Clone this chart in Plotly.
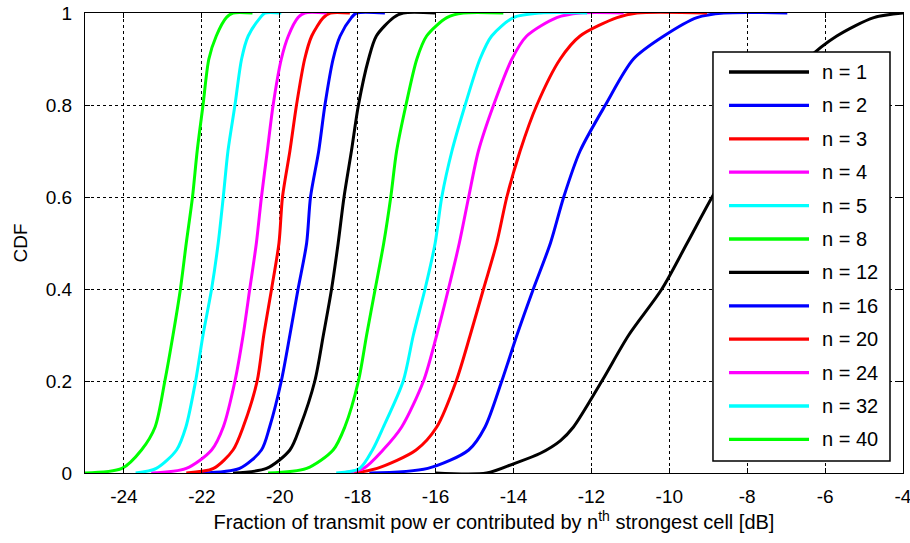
import plotly.graph_objects as go

# CDF levels shared by the n >= 2 curves: start of curve, ..., reaches 1, end of flat top
cdf_levels = [0, 0.01, 0.05, 0.1, 0.2, 0.3, 0.4, 0.5, 0.6, 0.7, 0.8, 0.9, 0.95, 0.99, 1, 1]

# n = 1 uses its own levels (long flat tail at zero)
cdf_levels_n1 = [0, 0, 0.02, 0.043, 0.07, 0.1, 0.2, 0.3, 0.4, 0.5, 0.6, 0.7, 0.8, 0.9, 0.95, 0.99, 1]
x_n1 = [-16.0, -14.69, -14.0, -13.31, -12.8, -12.46, -11.73, -11.04, -10.19, -9.54, -8.9, -8.2,
        -7.45, -6.45, -5.7, -4.75, -4.0]

# Fraction of transmit power (dB) at each of cdf_levels
x_n2 = [-17.7, -16.2, -15.15, -14.73, -14.3, -13.91, -13.49, -13.05, -12.71, -12.29, -11.64, -10.92,
        -10.14, -9.29, -8.6, -6.97]
x_n3 = [-18.1, -17.5, -16.5, -15.97, -15.47, -15.11, -14.77, -14.43, -14.17, -13.83, -13.4, -12.8,
        -12.29, -11.34, -10.83, -9.03]
x_n4 = [-18.4, -17.85, -17.35, -16.87, -16.31, -15.97, -15.67, -15.39, -15.15, -14.9, -14.51, -14.04,
        -13.66, -12.89, -12.29, -11.17]
x_n5 = [-18.55, -17.95, -17.62, -17.34, -16.83, -16.57, -16.27, -16.01, -15.84, -15.58, -15.24, -14.86,
        -14.56, -14.0, -13.31, -12.11]
x_n8 = [-20.3, -19.31, -18.63, -18.33, -17.98, -17.77, -17.55, -17.33, -17.15, -17.0, -16.76, -16.48,
        -16.23, -15.71, -15.29, -14.26]
x_n12 = [-21.2, -20.34, -19.74, -19.48, -19.1, -18.88, -18.67, -18.5, -18.35, -18.16, -17.98, -17.72,
         -17.52, -17.08, -16.83, -16.0]
x_n16 = [-22.0, -21.03, -20.47, -20.26, -19.96, -19.74, -19.53, -19.31, -19.21, -19.0, -18.84, -18.63,
         -18.45, -18.16, -18.03, -17.3]
x_n20 = [-22.4, -21.7, -21.2, -20.94, -20.58, -20.41, -20.21, -20.02, -19.93, -19.74, -19.57, -19.36,
         -19.18, -18.88, -18.7, -18.2]
x_n24 = [-23.3, -22.4, -21.75, -21.45, -21.15, -20.94, -20.77, -20.6, -20.47, -20.32, -20.17, -19.96,
         -19.78, -19.53, -19.36, -18.8]
x_n32 = [-23.7, -23.17, -22.65, -22.41, -22.16, -21.97, -21.75, -21.58, -21.45, -21.33, -21.15, -20.98,
         -20.81, -20.5, -20.38, -19.96]
x_n40 = [-25.0, -24.05, -23.55, -23.2, -22.95, -22.74, -22.55, -22.4, -22.24, -22.12, -21.97, -21.82,
         -21.63, -21.37, -21.2, -20.7]

n_values = [1, 2, 3, 4, 5, 8, 12, 16, 20, 24, 32, 40]
series_x = [x_n1, x_n2, x_n3, x_n4, x_n5, x_n8, x_n12, x_n16, x_n20, x_n24, x_n32, x_n40]
series_y = [cdf_levels_n1] + [cdf_levels] * 11
palette = ["#000000", "#0000FF", "#FF0000", "#FF00FF", "#00FFFF", "#00FF00"]

x_ticks = [-24, -22, -20, -18, -16, -14, -12, -10, -8, -6, -4]
y_ticks = [0, 0.2, 0.4, 0.6, 0.8, 1]

FONT = "Liberation Sans, Arial, sans-serif"
FS = 19

fig = go.Figure()
for i, (n, xs, ys) in enumerate(zip(n_values, series_x, series_y)):
    fig.add_trace(go.Scatter(
        x=xs, y=ys, mode="lines", name=f"n = {n}", showlegend=False,
        line=dict(color=palette[i % len(palette)], width=3, shape="spline", smoothing=0.8),
    ))

axis_common = dict(
    showline=True, linecolor="black", linewidth=1, mirror="allticks",
    ticks="inside", ticklen=5, tickcolor="black", tickwidth=1,
    showgrid=True, gridcolor="black", gridwidth=1, griddash="dot",
    zeroline=False, automargin=False, ticklabeloverflow="allow",
    tickfont=dict(family=FONT, size=FS, color="black"),
)

fig.update_xaxes(
    range=[-25, -4], tickvals=x_ticks, ticktext=[str(v) for v in x_ticks],
    ticklabelstandoff=6,
    title=dict(text="Fraction of transmit pow er contributed by n<sup>th</sup> strongest cell [dB]",
               font=dict(family=FONT, size=20, color="black"), standoff=9),
    **axis_common,
)
fig.update_yaxes(
    range=[0, 1], tickvals=y_ticks, ticktext=["0", "0.2", "0.4", "0.6", "0.8", "1"],
    ticklabelstandoff=8,
    title=dict(text="CDF", font=dict(family=FONT, size=FS, color="black"), standoff=13),
    **axis_common,
)

# Boxed legend in the upper right: long line samples, one row per n
leg_left, leg_right = 0.7677, 0.9841
leg_top, leg_bottom = 0.9152, 0.0261
row0, row_step = 0.8717, 0.0726
sample_x0, sample_x1, label_x = 0.7873, 0.8851, 0.8985

shapes = [dict(type="rect", xref="paper", yref="paper", layer="above",
               x0=leg_left, x1=leg_right, y0=leg_bottom, y1=leg_top,
               fillcolor="white", line=dict(color="black", width=1.5))]
annotations = []
for i, n in enumerate(n_values):
    yy = row0 - i * row_step
    shapes.append(dict(type="line", xref="paper", yref="paper", layer="above",
                       x0=sample_x0, x1=sample_x1, y0=yy, y1=yy,
                       line=dict(color=palette[i % len(palette)], width=3.3)))
    annotations.append(dict(xref="paper", yref="paper", x=label_x, y=yy,
                            xanchor="left", yanchor="middle", showarrow=False,
                            text=f"n = {n}", font=dict(family=FONT, size=20, color="black")))

fig.update_layout(
    width=910, height=543,
    margin=dict(l=85, r=7, t=13, b=70),
    paper_bgcolor="white", plot_bgcolor="white",
    font=dict(family=FONT, color="black"),
    showlegend=False,
    shapes=shapes, annotations=annotations,
)

fig.write_html("out.html")
